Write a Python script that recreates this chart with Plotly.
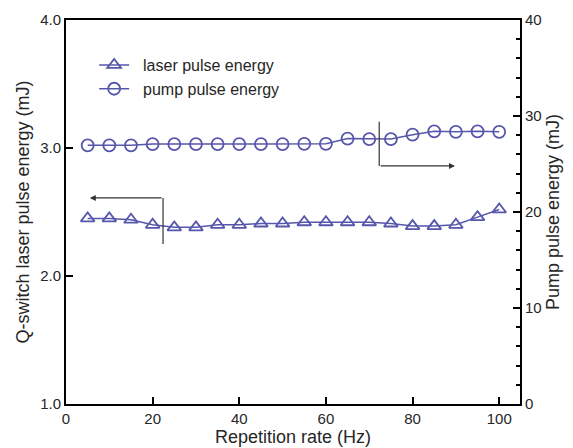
import plotly.graph_objects as go

rate_hz = [5, 10, 15, 20, 25, 30, 35, 40, 45, 50, 55, 60, 65, 70, 75, 80, 85, 90, 95, 100]
laser_energy_mj = [2.45, 2.45, 2.44, 2.40, 2.38, 2.38, 2.40, 2.40, 2.41, 2.41,
                   2.42, 2.42, 2.42, 2.42, 2.41, 2.39, 2.39, 2.40, 2.46, 2.52]
pump_energy_mj = [26.95, 26.95, 26.95, 27.08, 27.08, 27.08, 27.08, 27.08, 27.08, 27.08,
                  27.1, 27.1, 27.65, 27.6, 27.6, 28.05, 28.4, 28.35, 28.4, 28.35]

left_ticks = [1.0, 2.0, 3.0, 4.0]
left_tick_labels = ["1.0", "2.0", "3.0", "4.0"]
right_ticks = [0, 10, 20, 30, 40]
x_ticks = [0, 20, 40, 60, 80, 100]

X_RANGE = [0, 104.8]
Y_RANGE = [1, 4]
Y2_RANGE = [0, 40]

COLOR = "#5656ab"
FONT = "Liberation Sans, Arial, sans-serif"
TXT = "#262626"

fig = go.Figure()
fig.add_trace(go.Scatter(
    x=rate_hz, y=laser_energy_mj, name="  laser pulse energy",
    mode="lines+markers",
    line=dict(color=COLOR, width=1.5),
    marker=dict(symbol="triangle-up-open", size=12, color=COLOR, line=dict(width=1.8)),
    xaxis="x", yaxis="y"))
fig.add_trace(go.Scatter(
    x=rate_hz, y=pump_energy_mj, name="  pump pulse energy",
    mode="lines+markers",
    line=dict(color=COLOR, width=1.5),
    marker=dict(symbol="circle-open", size=12, color=COLOR, line=dict(width=1.8)),
    xaxis="x", yaxis="y2"))

# indicator arrows
arrow_col = "#333333"
fig.add_shape(type="line", xref="x", yref="y", x0=22.4, x1=22.4, y0=2.61, y1=2.25,
              line=dict(color=arrow_col, width=1.2))
fig.add_annotation(x=5.5, y=2.61, xref="x", yref="y", ax=22.4, ay=2.61, axref="x", ayref="y",
                   text="", showarrow=True, arrowhead=2, arrowsize=1, arrowwidth=1.2,
                   arrowcolor=arrow_col)
fig.add_shape(type="line", xref="x", yref="y2", x0=72.3, x1=72.3, y0=29.4, y1=24.8,
              line=dict(color=arrow_col, width=1.2))
fig.add_annotation(x=89.8, y=24.8, xref="x", yref="y2", ax=72.3, ay=24.8, axref="x", ayref="y2",
                   text="", showarrow=True, arrowhead=2, arrowsize=1, arrowwidth=1.2,
                   arrowcolor=arrow_col)

axis_common = dict(showgrid=False, zeroline=False, linecolor="black", linewidth=2,
                   ticks="inside", ticklen=7, tickwidth=2, tickcolor="black",
                   automargin=False,
                   tickfont=dict(family=FONT, size=15, color=TXT))
minor_common = dict(ticks="inside", ticklen=4, tickcolor="black", tickwidth=2, showgrid=False)
# tick-only axes placed on the frame, with outward ticks facing into the plot
tick_only = dict(showgrid=False, zeroline=False, showline=False, showticklabels=False,
                 ticks="outside", ticklen=7, tickwidth=2, tickcolor="black", automargin=False)
minor_out = dict(ticks="outside", ticklen=4, tickcolor="black", tickwidth=2, showgrid=False)
title_font = dict(family=FONT, size=18, color=TXT)

# page body has an 8px margin, so the figure is drawn 8px in from the top-left
fig.update_layout(
    width=565, height=440,
    margin=dict(l=58, r=53, t=12, b=44),
    paper_bgcolor="white", plot_bgcolor="rgba(0,0,0,0)",
    showlegend=True,
    legend=dict(x=0.062, y=0.927, xanchor="left", yanchor="top",
                font=dict(family=FONT, size=16, color=TXT),
                bgcolor="rgba(0,0,0,0)", tracegroupgap=0, itemwidth=30),
    xaxis=dict(range=X_RANGE, tickvals=x_ticks, mirror=True, showline=True,
               title=dict(text="Repetition rate (Hz)", font=title_font, standoff=2),
               **axis_common),
    yaxis=dict(range=Y_RANGE, tickvals=left_ticks, ticktext=left_tick_labels, showline=True,
               title=dict(text="Q-switch laser pulse energy (mJ)", font=title_font, standoff=6),
               **axis_common),
    yaxis2=dict(range=Y2_RANGE, tickvals=right_ticks, overlaying="y", side="right", showline=True,
                anchor="x",
                minor=dict(dtick=2, **minor_common),
                title=dict(text="Pump pulse energy (mJ)", font=title_font, standoff=6),
                **axis_common),
    yaxis3=dict(range=Y_RANGE, tickvals=left_ticks, overlaying="y", anchor="free", position=0,
                side="right", minor=dict(dtick=0.2, **minor_out), **tick_only),
    xaxis3=dict(range=X_RANGE, tickvals=x_ticks, overlaying="x", anchor="free", position=0,
                side="top", minor=dict(dtick=5, **minor_out), **tick_only),
    xaxis4=dict(range=X_RANGE, tickvals=x_ticks, overlaying="x", anchor="free", position=1,
                side="bottom", minor=dict(dtick=5, **minor_out), **tick_only),
)

fig.write_html("out.html")
